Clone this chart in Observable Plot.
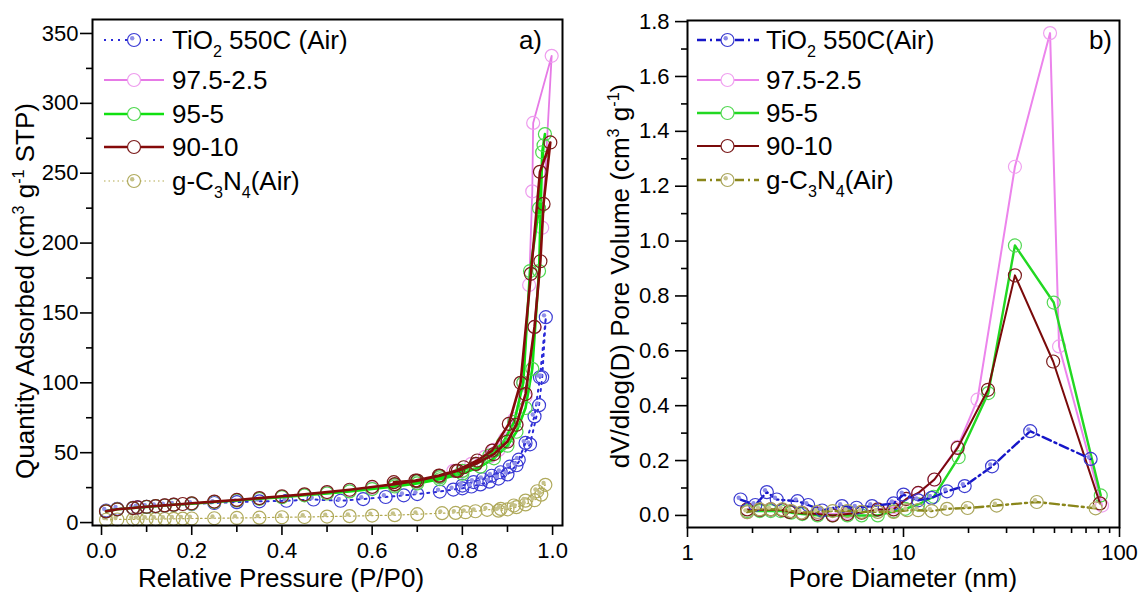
<!DOCTYPE html>
<html><head><meta charset="utf-8">
<script src="https://cdn.jsdelivr.net/npm/d3@7"></script>
<script src="https://cdn.jsdelivr.net/npm/@observablehq/plot@0.6"></script>
<style>
body{margin:0;background:#fff;}
#wrap{position:relative;width:1141px;height:592px;overflow:hidden;background:#fff;}
#wrap svg{position:absolute;top:0;}
text{white-space:pre;}
</style></head><body><div id="wrap"></div>
<script>
// ---------- Panel a) : N2 isotherms (Relative pressure vs quantity adsorbed) ----------
const seriesNames = ["TiO2 550C (Air)", "97.5-2.5", "95-5", "90-10", "g-C3N4(Air)"];

const pTiO2 = [0.01,0.035,0.07,0.08,0.1,0.12,0.14,0.16,0.2,0.25,0.3,0.35,0.41,0.47,0.53,0.58,0.63,0.67,0.7,0.75,0.78,0.8,0.82,0.84,0.86,0.88,0.9,0.92,0.95,0.97,0.977,0.985,0.972,0.96,0.94,0.925,0.905,0.885,0.865,0.845,0.825,0.8];
const qTiO2 = [8.5,9.8,10.5,10.8,11.2,11.7,12.2,12.7,13.3,14,14.6,15.2,15.6,16.5,15.6,16.8,18.3,19.5,20.4,22.2,23.6,24.5,25.8,27.3,29.3,31.5,34.5,41,56,84,104,147,104,76,57,45,40,36,33.5,31,29,26.5];

const pPink = [0.01,0.035,0.07,0.1,0.12,0.14,0.16,0.2,0.25,0.3,0.35,0.4,0.45,0.5,0.55,0.6,0.65,0.7,0.75,0.8,0.83,0.86,0.88,0.9,0.92,0.94,0.96,0.977,0.998,0.957,0.955,0.948,0.935,0.915,0.895,0.87,0.85,0.82,0.78];
const qPink = [8,9.5,10.5,11.3,11.8,12.3,12.8,13.6,14.8,15.8,17,18.3,19.6,21,22.7,24.5,26.5,29,32.5,37,41.5,47,52,59,70,90,140,211,334,286,237,170,100,74,60,52,47,42,37];

const pGreen = [0.01,0.035,0.07,0.1,0.12,0.14,0.16,0.2,0.25,0.3,0.35,0.4,0.45,0.5,0.55,0.6,0.65,0.7,0.75,0.8,0.84,0.87,0.9,0.92,0.94,0.955,0.97,0.977,0.983,0.98,0.97,0.95,0.935,0.915,0.89,0.86,0.83,0.8,0.75,0.7,0.65];
const qGreen = [8,9.5,10.4,11.2,11.7,12.2,12.7,13.5,14.7,15.8,17,18.2,19.5,20.8,22.3,24,25.8,28,31,35,40,46,55,65,82,110,180,265,278,270,225,180,100,72,57,48,42,37,32.5,29.5,27];

const pRed = [0.01,0.035,0.07,0.08,0.1,0.12,0.14,0.16,0.18,0.2,0.25,0.3,0.35,0.4,0.45,0.5,0.55,0.6,0.65,0.7,0.75,0.79,0.83,0.87,0.9,0.92,0.94,0.96,0.973,0.98,0.995,0.972,0.952,0.929,0.903,0.866,0.833,0.803,0.786,0.748,0.696,0.648];
const qRed = [8,9.5,10.4,10.8,11.3,11.8,12.3,12.8,13.3,13.8,15,16.2,17.5,18.8,20.2,21.8,23.5,25.5,27.5,30,33.5,37,42,49,58,70,92,140,187,228,272,251,178,100,70.6,51.5,44.4,39.6,37,33.6,30,28.9];

const pOlive = [0.01,0.035,0.07,0.08,0.1,0.12,0.14,0.16,0.18,0.2,0.25,0.3,0.35,0.4,0.45,0.5,0.55,0.6,0.65,0.7,0.755,0.785,0.807,0.829,0.855,0.885,0.914,0.94,0.966,0.984,0.975,0.96,0.94,0.92,0.9,0.88];
const qOlive = [2,2.2,2.3,2.4,2.5,2.5,2.6,2.7,2.8,2.9,3.1,3.3,3.5,3.8,4,4.3,4.6,5,5.3,6,6.7,6.9,7.4,8.1,9.1,9.8,12.2,15.7,22.4,27,20,16,13,11,9.5,8.5];

const xTicksA = [0,0.2,0.4,0.6,0.8,1.0];
const xMinorA = [0.1,0.3,0.5,0.7,0.9];
const yTicksA = [0,50,100,150,200,250,300,350];
const yMinorA = [25,75,125,175,225,275,325];

// ---------- Panel b) : BJH pore size distribution ----------
const dTiO2 = [1.76,2.06,2.33,2.59,3.23,3.62,4.2,5.19,6.06,7.15,9.0,10.0,11.7,13.5,15.9,19.2,25.7,38.6,73.5];
const vTiO2 = [0.058,0.038,0.085,0.058,0.052,0.038,0.018,0.034,0.028,0.034,0.044,0.076,0.055,0.064,0.088,0.107,0.179,0.307,0.206];

const dPink = [1.89,2.16,2.43,2.75,3.02,3.4,4.0,4.7,5.5,6.4,7.6,9.0,10.3,11.7,13.9,17.8,22.0,32.8,47.7,52.5,83];
const vPink = [0.012,0.02,0.02,0.02,0.015,0.01,0.01,0.005,0.01,0.012,0.02,0.03,0.06,0.08,0.13,0.25,0.422,1.271,1.758,0.616,0.036];

const dGreen = [1.89,2.16,2.43,2.7,3.02,3.4,4.0,4.7,5.5,6.4,7.6,9.0,10.2,11.7,13.8,18.0,24.7,32.8,49.6,81.9];
const vGreen = [0.016,0.016,0.016,0.016,0.01,0.005,0.0,0.0,0.0,0.0,0.0,0.015,0.024,0.04,0.068,0.212,0.446,0.984,0.776,0.073];

const dRed = [1.89,2.16,2.43,2.75,2.96,3.4,4.0,4.7,5.5,6.4,7.6,9.0,10.3,11.7,13.9,17.8,24.6,32.8,49.3,81.2];
const vRed = [0.022,0.02,0.022,0.02,0.013,0.008,0.005,0.0,0.005,0.01,0.022,0.022,0.06,0.082,0.131,0.246,0.458,0.875,0.561,0.044];

const dOlive = [1.89,2.16,2.43,2.75,3.02,3.36,4.0,4.7,5.5,6.4,7.6,9.0,10.4,11.7,13.5,15.9,19.8,27.0,41.4,77.5];
const vOlive = [0.012,0.022,0.022,0.022,0.016,0.01,0.013,0.016,0.016,0.013,0.013,0.013,0.019,0.019,0.016,0.024,0.027,0.036,0.049,0.026];

const xTicksB = [1,10,100];
const xMinorB = [2,3,4,5,6,7,8,9,20,30,40,50,60,70,80,90];
const yTicksB = [0,0.2,0.4,0.6,0.8,1.0,1.2,1.4,1.6,1.8];
const yMinorB = [0.1,0.3,0.5,0.7,0.9,1.1,1.3,1.5,1.7];

// ---------- helpers ----------
const rows = (xs, ys) => xs.map((x, i) => ({x, y: ys[i]}));
const FONT = "'Liberation Sans', Arial, Helvetica, sans-serif";

function seriesMarks(data, st) {
  const m = [Plot.line(data, {x: "x", y: "y", stroke: st.line, strokeWidth: st.lw, strokeDasharray: st.dash || null, curve: "linear"})];
  m.push(Plot.dot(data, {x: "x", y: "y", r: 6.5, stroke: st.mk, strokeWidth: 1.2, fill: "none"}));
  if (st.ball) m.push(Plot.dot(data, {x: "x", y: "y", r: 2.2, fill: st.ball, dx: -1.8, dy: -1.8}));
  return m;
}

function rich(textSel, parts, fs) {
  let shift = 0;
  parts.forEach(([t, m]) => {
    const target = m === "sup" ? -0.4 * fs : m === "sub" ? 0.3 * fs : 0;
    textSel.append("tspan").attr("dy", target - shift).attr("font-size", m ? fs * 0.62 : fs).text(t);
    shift = target;
  });
}

const legendParts = [
  [["TiO", ""], ["2", "sub"], [" 550C (Air)", ""]],
  [["97.5-2.5", ""]],
  [["95-5", ""]],
  [["90-10", ""]],
  [["g-C", ""], ["3", "sub"], ["N", ""], ["4", "sub"], ["(Air)", ""]]
];
const legendPartsB = [
  [["TiO", ""], ["2", "sub"], [" 550C(Air)", ""]],
  [["97.5-2.5", ""]],
  [["95-5", ""]],
  [["90-10", ""]],
  [["g-C", ""], ["3", "sub"], ["N", ""], ["4", "sub"], ["(Air)", ""]]
];

function drawLegend(svg, styles, parts, x0, x1, xm, xt, ys) {
  const g = d3.select(svg).append("g").attr("text-anchor", "start");
  styles.forEach((st, i) => {
    const y = ys[i];
    g.append("line").attr("x1", x0).attr("x2", x1).attr("y1", y).attr("y2", y)
      .attr("stroke", st.line).attr("stroke-width", st.lw).attr("stroke-dasharray", st.dash || null);
    g.append("circle").attr("cx", xm).attr("cy", y).attr("r", 6.5).attr("fill", "#fff")
      .attr("stroke", st.mk).attr("stroke-width", 1.2);
    if (st.ball) g.append("circle").attr("cx", xm - 1.8).attr("cy", y - 1.8).attr("r", 2.2).attr("fill", st.ball);
    const t = g.append("text").attr("x", xt).attr("y", y + 9).attr("text-anchor", "start")
      .attr("font-family", FONT).attr("fill", "#000");
    rich(t, parts[i], 26);
  });
}

// ---------- styles ----------
const stA = [
  {line: "#2a2ad8", lw: 2, dash: "2,5", mk: "#3b3bd4", ball: "#8f8fe8"},
  {line: "#e67ae6", lw: 1.8, mk: "#ee9cee"},
  {line: "#10e010", lw: 2.6, mk: "#4cd84c"},
  {line: "#850a0a", lw: 2.6, mk: "#7a1a1a"},
  {line: "#b4aa50", lw: 1.2, dash: "1.5,3", mk: "#b0aa5c", ball: "#c6c28a"}
];
const stB = [
  {line: "#1616c8", lw: 2.4, dash: "9,4,2,4", mk: "#3b3bd0", ball: "#8a8ae8"},
  {line: "#ec84ec", lw: 2, mk: "#f0a2f0"},
  {line: "#22d822", lw: 2.4, mk: "#55d855"},
  {line: "#7a0a0a", lw: 2, mk: "#7a1a1a"},
  {line: "#8a861a", lw: 2.4, dash: "9,4,2,4", mk: "#aaa65c", ball: "#c8c490"}
];

const dataA = [rows(pTiO2, qTiO2), rows(pPink, qPink), rows(pGreen, qGreen), rows(pRed, qRed), rows(pOlive, qOlive)];
const dataB = [rows(dTiO2, vTiO2), rows(dPink, vPink), rows(dGreen, vGreen), rows(dRed, vRed), rows(dOlive, vOlive)];

const style = {fontFamily: FONT, fontSize: "22px", background: "transparent", color: "#000", overflow: "visible"};

// ---------- left plot ----------
const orderA = [4, 0, 1, 2, 3];
const left = Plot.plot({
  width: 575, height: 592, marginLeft: 92, marginRight: 13, marginTop: 19, marginBottom: 67,
  style,
  x: {domain: [-0.02, 1.022]},
  y: {domain: [-2.1, 360]},
  marks: [
    ...orderA.flatMap(i => seriesMarks(dataA[i], stA[i])),
    Plot.frame({stroke: "#000", strokeWidth: 2}),
    Plot.axisY({ticks: yTicksA, tickSize: 12, tickPadding: 2, tickFormat: d => String(d), label: null, strokeWidth: 1.6}),
    Plot.axisY({ticks: yMinorA, tickSize: 6, tickFormat: () => "", label: null, strokeWidth: 1.6}),
    Plot.axisX({ticks: xTicksA, tickSize: 10, tickPadding: 7, tickFormat: d => d.toFixed(1), label: null, strokeWidth: 1.6}),
    Plot.axisX({ticks: xMinorA, tickSize: 7, tickFormat: () => "", label: null, strokeWidth: 1.6})
  ]
});
left.style.left = "0px";
document.getElementById("wrap").appendChild(left);

// ---------- right plot ----------
const OFF = 575;
const orderB = [1, 2, 3, 0, 4];
const right = Plot.plot({
  width: 566, height: 592, marginLeft: 112, marginRight: 22, marginTop: 20, marginBottom: 65,
  style,
  x: {type: "log", domain: [1, 100]},
  y: {domain: [-0.044, 1.804]},
  marks: [
    ...orderB.flatMap(i => seriesMarks(dataB[i], stB[i])),
    Plot.frame({stroke: "#000", strokeWidth: 2}),
    Plot.axisY({ticks: yTicksB, tickSize: 12, tickPadding: 6, tickFormat: d => d.toFixed(1), label: null, strokeWidth: 1.6}),
    Plot.axisY({ticks: yMinorB, tickSize: 6, tickFormat: () => "", label: null, strokeWidth: 1.6}),
    Plot.axisX({ticks: xTicksB, tickSize: 10, tickPadding: 7, tickFormat: d => String(d), label: null, strokeWidth: 1.6}),
    Plot.axisX({ticks: xMinorB, tickSize: 6, tickFormat: () => "", label: null, strokeWidth: 1.6})
  ]
});
right.style.left = OFF + "px";
document.getElementById("wrap").appendChild(right);

// ---------- titles, panel tags and legends ----------
(function decorate() {
  const L = d3.select(left), R = d3.select(right);
  const ty = L.append("text").attr("transform", "translate(34,291) rotate(-90)").attr("text-anchor", "middle")
    .attr("font-family", FONT).attr("fill", "#000");
  rich(ty, [["Quantity Adsorbed (cm", ""], ["3", "sup"], [" g", ""], ["-1", "sup"], [" STP)", ""]], 26);
  L.append("text").attr("x", 281).attr("y", 587).attr("text-anchor", "middle").attr("font-family", FONT)
    .attr("font-size", 26).attr("fill", "#000").text("Relative Pressure (P/P0)");
  L.append("text").attr("x", 542).attr("y", 49).attr("text-anchor", "end").attr("font-family", FONT)
    .attr("font-size", 26).attr("fill", "#000").text("a)");
  drawLegend(left, stA, legendParts, 104, 164, 134, 172, [40, 80, 114, 147, 181]);

  const ty2 = R.append("text").attr("transform", `translate(${629 - OFF},276) rotate(-90)`).attr("text-anchor", "middle")
    .attr("font-family", FONT).attr("fill", "#000");
  rich(ty2, [["dV/dlog(D) Pore Volume (cm", ""], ["3", "sup"], [" g", ""], ["-1", "sup"], [")", ""]], 26);
  R.append("text").attr("x", 903 - OFF).attr("y", 587).attr("text-anchor", "middle").attr("font-family", FONT)
    .attr("font-size", 26).attr("fill", "#000").text("Pore Diameter (nm)");
  R.append("text").attr("x", 1112 - OFF).attr("y", 49).attr("text-anchor", "end").attr("font-family", FONT)
    .attr("font-size", 26).attr("fill", "#000").text("b)");
  drawLegend(right, stB, legendPartsB, 697 - OFF, 759 - OFF, 727.5 - OFF, 766 - OFF, [40, 80, 113, 146, 180]);
})();
</script></body></html>
